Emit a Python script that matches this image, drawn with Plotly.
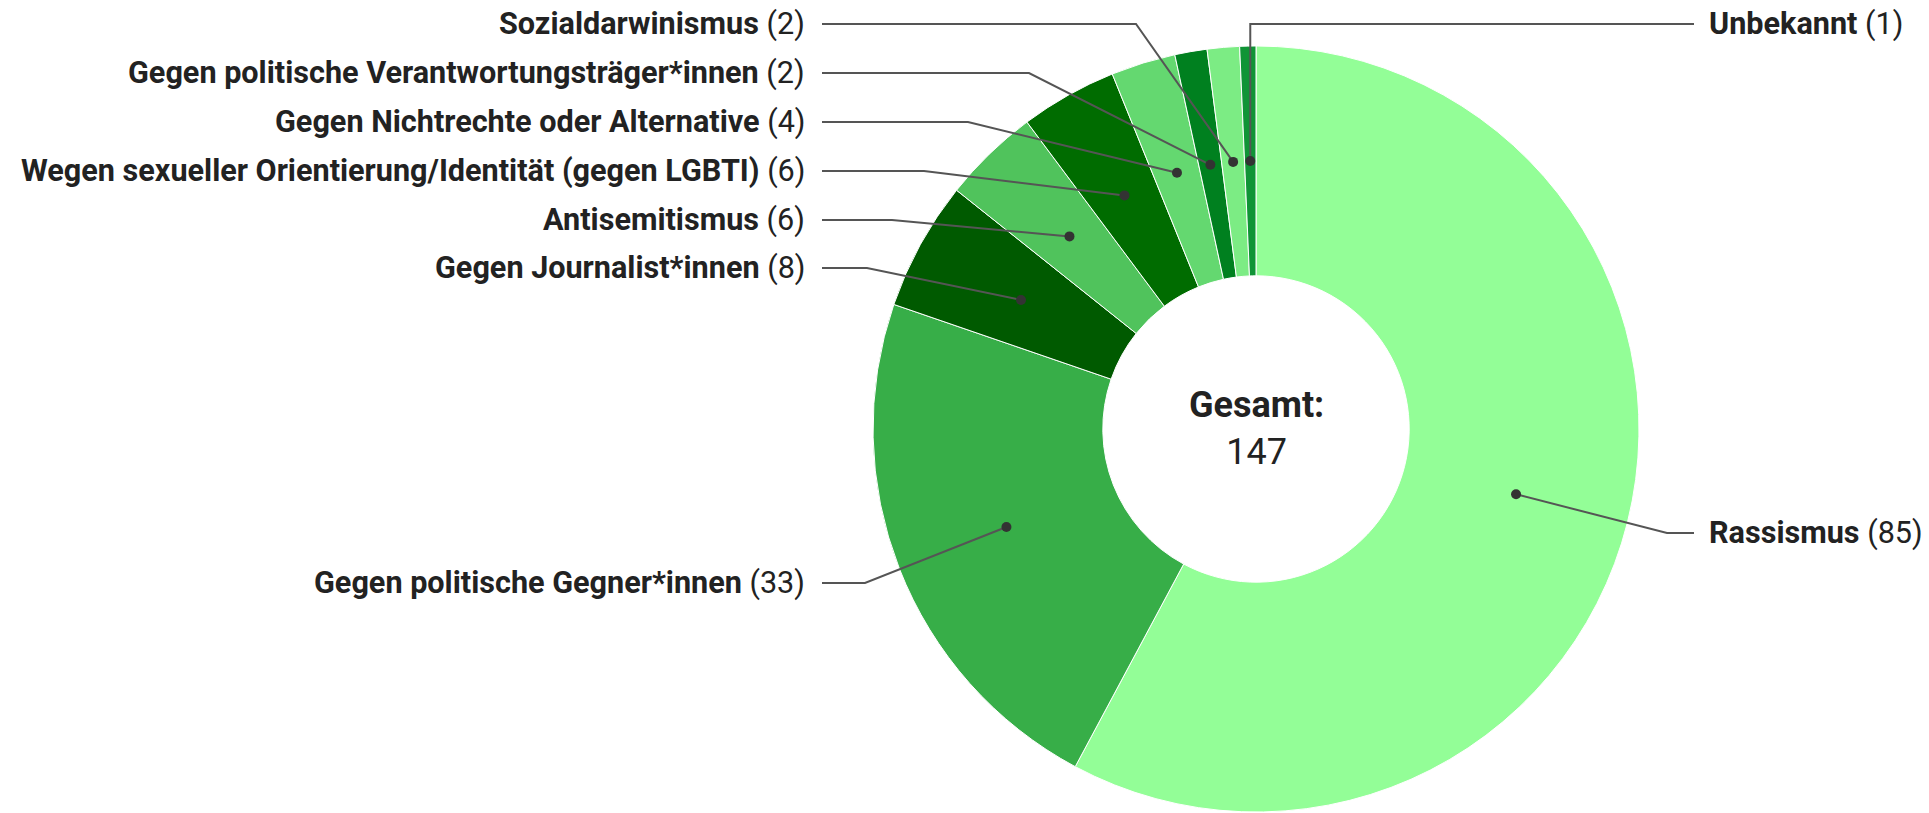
import math
import plotly.graph_objects as go

# ---- data ----
categories = [
    "Rassismus",
    "Gegen politische Gegner*innen",
    "Gegen Journalist*innen",
    "Antisemitismus",
    "Wegen sexueller Orientierung/Identität (gegen LGBTI)",
    "Gegen Nichtrechte oder Alternative",
    "Gegen politische Verantwortungsträger*innen",
    "Sozialdarwinismus",
    "Unbekannt",
]
values = [85, 33, 8, 6, 6, 4, 2, 2, 1]
center_title = "Gesamt:"

# ---- styles / layout ----
colors = ["#93FE97", "#37AE48", "#005A00", "#50C35C", "#006C00",
          "#64D870", "#00801F", "#7CEC84", "#109436"]
label_side = ["right", "left", "left", "left", "left", "left", "left", "left", "right"]
label_y_px = [533, 583, 268, 220, 171, 122, 73, 24, 24]
elbow_x_px = [1667, 865, 867, 892, 924, 968, 1029, 1136, None]

W, H = 1929, 813
CX, CY, R = 1256, 429, 383
HOLE = 0.40
LEFT_LINE_START, LEFT_TEXT_X = 822, 807
RIGHT_LINE_END, RIGHT_TEXT_X = 1694, 1707
FONT = "Roboto"


def px(x):
    return x / W


def py(y):
    return 1 - y / H


total = sum(values)

fig = go.Figure()
fig.add_trace(go.Pie(
    labels=categories,
    values=values,
    sort=False,
    direction="clockwise",
    rotation=0,
    hole=HOLE,
    textinfo="none",
    hoverinfo="label+value",
    marker=dict(colors=colors, line=dict(color="white", width=1)),
    domain=dict(x=[px(CX - R), px(CX + R)], y=[py(CY + R), py(CY - R)]),
    showlegend=False,
))

shapes = []
annotations = []
r_dot = R * (1 + HOLE) / 2
cum = 0
for i, (name, v) in enumerate(zip(categories, values)):
    mid = (cum + v / 2) / total * 2 * math.pi
    cum += v
    dx = CX + r_dot * math.sin(mid)
    dy = CY - r_dot * math.cos(mid)
    ly = label_y_px[i]
    ex = elbow_x_px[i] if elbow_x_px[i] is not None else dx
    if label_side[i] == "left":
        pts = [(LEFT_LINE_START, ly), (ex, ly), (dx, dy)]
        tx, anchor = LEFT_TEXT_X, "right"
    else:
        pts = [(dx, dy), (ex, ly), (RIGHT_LINE_END, ly)]
        tx, anchor = RIGHT_TEXT_X, "left"
    path = "M " + " L ".join(f"{px(a):.6f},{py(b):.6f}" for a, b in pts)
    shapes.append(dict(type="path", path=path, xref="paper", yref="paper",
                       line=dict(color="#555555", width=2), layer="above"))
    dr = 5
    shapes.append(dict(type="circle", xref="paper", yref="paper",
                       x0=px(dx - dr), x1=px(dx + dr), y0=py(dy + dr), y1=py(dy - dr),
                       fillcolor="#333333", line=dict(color="#333333", width=0),
                       layer="above"))
    annotations.append(dict(
        x=px(tx), y=py(ly), xref="paper", yref="paper",
        xanchor=anchor, yanchor="middle", showarrow=False,
        text=f"<b>{name}</b> ({v})",
        font=dict(family=FONT, size=30.6, color="#222222"),
    ))

annotations.append(dict(
    x=px(CX), y=py(CY), xref="paper", yref="paper",
    xanchor="center", yanchor="middle", showarrow=False,
    text=f"<b>{center_title}</b><br>{total}",
    font=dict(family=FONT, size=36, color="#222222"),
))

fig.update_layout(
    width=W, height=H,
    margin=dict(l=0, r=0, t=0, b=0),
    paper_bgcolor="white",
    plot_bgcolor="white",
    shapes=shapes,
    annotations=annotations,
    font=dict(family=FONT),
)

fig.write_html(
    "out.html",
    config={"displayModeBar": False},
    post_script="document.body.style.margin='0';document.body.style.overflow='hidden';",
)
